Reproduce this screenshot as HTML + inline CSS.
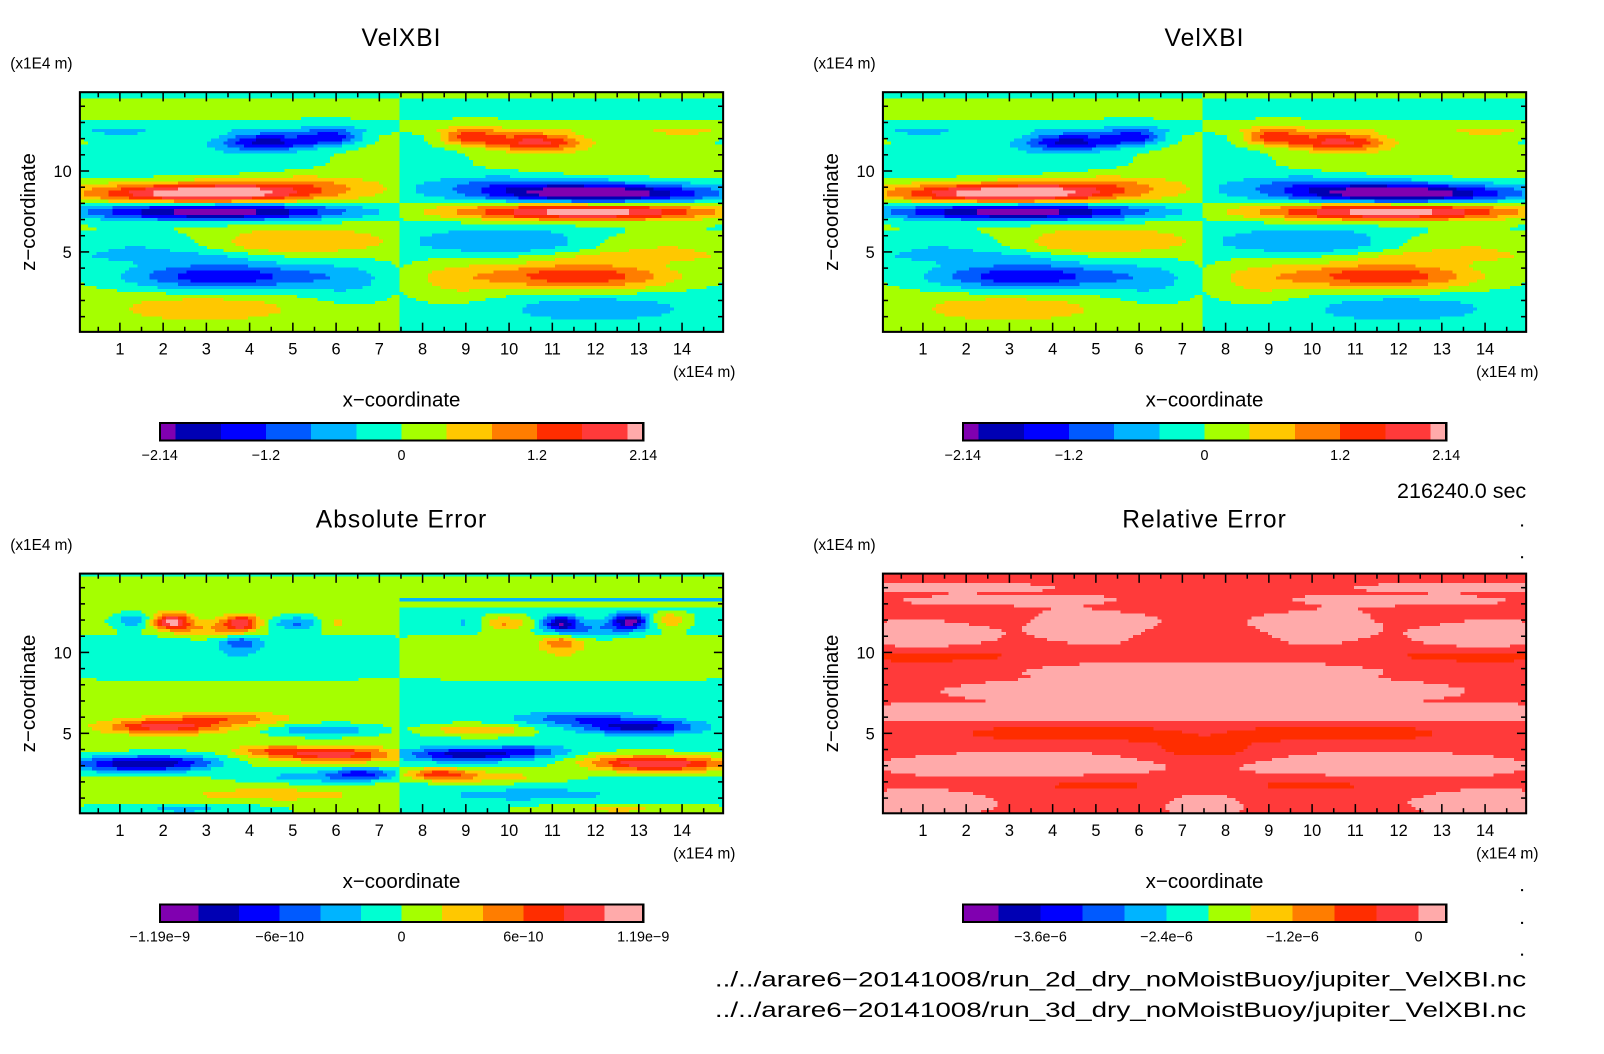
<!DOCTYPE html>
<html><head><meta charset="utf-8"><style>
html,body{margin:0;padding:0;background:#fff;}
svg{display:block;}
text{font-family:"Liberation Sans",sans-serif;fill:#000;}
</style></head><body>
<svg id="fig" width="1604" height="1054" viewBox="0 0 1566 1029" preserveAspectRatio="none" xmlns="http://www.w3.org/2000/svg"></svg>
<script>
// ---- data ----
const levelColors = ["#8000b0","#0000b4","#0000ff","#005aff","#00b4ff","#00ffd2","#a5ff00","#ffc800","#ff7d00","#ff2d00","#ff3a3a","#ffaaaa"];
const xTickLabels = [1,2,3,4,5,6,7,8,9,10,11,12,13,14];
const zTickLabels = [5,10];
const velBase = 0.4;
const velBlobs = [
 [3.0,8.6,6.2,1.8,0.45],[3.2,7.5,-6.4,2.2,0.4],[3.4,3.5,-4.3,1.6,0.6],
 [4.4,11.8,-4.6,0.8,0.4],[5.9,12.1,-3.6,0.5,0.35],[5.0,5.6,1.7,1.5,0.6],
 [3.0,1.5,1.6,1.3,0.5],[2.0,10.5,-1.3,2.5,0.8],[1.5,5.5,-1.4,1.5,0.6],
 [6.3,3.2,-1.3,0.8,1.0],[5.2,9.2,1.4,1.2,0.4],[1.0,12.3,-1.2,0.6,0.3],
 [2.0,4.7,-1.2,2.0,0.3]
];
const velStripes = [[14.7,-1.2,0.15],[13.1,-1.3,0.1],[12.6,-0.9,0.2]];
const absBase = 0.3;
const absBlobs = [
 [2.0,5.4,4.2,0.9,0.3],[3.4,5.9,2.4,1.0,0.3],[1.2,3.1,-4.4,1.0,0.35],
 [2.4,3.2,-2.2,0.8,0.35],[6.0,3.7,4.3,0.9,0.3],[5.7,5.2,-2.4,0.8,0.25],
 [4.5,3.9,2.2,0.6,0.25],[6.6,2.5,-3.2,0.5,0.25],[5.5,2.3,-1.8,1.2,0.3],
 [2.2,11.9,5.2,0.3,0.35],[3.8,11.8,4.6,0.3,0.35],
 [1.3,12.0,-2.2,0.3,0.3],[5.3,11.8,-3.0,0.5,0.3],[5.8,11.8,2.2,0.4,0.3],
 [3.8,10.6,-2.5,0.3,0.25],[3.0,11.4,1.8,0.5,0.35],[3.5,9.7,-1.3,4.0,0.9],
 [4.5,1.2,1.0,2.0,0.4],[2.5,0.3,-1.5,1.5,0.3]
];
const absStripes = [[13.2,1.0,0.1]];
// symmetric (same sign both halves) top stripes: [z, value, width]
const absTopSym = [[14.0,0.6,0.7],[14.75,-1.0,0.12],[13.25,-1.0,0.08]];
const relBase = 4.75;
const relBlobs = [
 [7.5,7.6,1.5,3.2,0.5],[6.5,8.9,1.2,1.8,0.3],[5.0,11.8,1.2,0.9,0.8],
 [1.0,11.0,1.2,1.0,0.6],[3.0,13.2,1.0,1.5,0.2],[1.5,14.0,1.0,1.5,0.2],
 [3.5,3.0,1.2,2.0,0.5],[1.0,0.7,1.2,1.0,0.5],[7.5,0.5,1.2,0.5,0.5],
 [6.5,6.5,1.0,1.0,0.5],[1.0,6.3,1.0,1.0,0.3],[4.5,6.2,1.0,2.5,0.3],
 [4.5,5.0,-1.5,2.0,0.4],[7.5,4.0,-1.2,1.0,0.5],[5.0,1.8,-1.0,1.5,0.4],
 [1.0,9.8,-1.2,2.0,0.4],[6.0,12.8,-0.8,1.0,0.3],[2.5,12.3,-0.6,0.6,0.3],
 [7.5,11.0,-0.7,1.0,0.4]
];
const cb1Labels = ["−2.14","−1.2","0","1.2","2.14"], cb1Units = [-5.35,-3,0,3,5.35];
const cb3Labels = ["−1.19e−9","−6e−10","0","6e−10","1.19e−9"], cb3Units = [-5.95,-3,0,3,5.95];
const cb4Labels = ["−3.6e−6","−2.4e−6","−1.2e−6","0"], cb4Units = [-4,-1,2,5];

// ---- helpers ----
const NS="http://www.w3.org/2000/svg", svg=document.getElementById('fig');
function mk(tag,attrs,parent){const e=document.createElementNS(NS,tag);for(const k in attrs)e.setAttribute(k,attrs[k]);(parent||svg).appendChild(e);return e;}
function txt(s,x,y,size,anchor,parent,extra){const t=mk('text',Object.assign({x:x,y:y,'font-size':size,'text-anchor':anchor||'middle'},extra||{}),parent);t.textContent=s;return t;}
const X0=0.075,X1=14.95,Z0=0.06,Z1=14.87,PW=628,PH=234;
function blobSum(blobs,stripes,x,z){let v=0;for(const b of blobs){const dx=(x-b[0])/b[3],dz=(z-b[1])/b[4];v+=b[2]*Math.exp(-0.5*(dx*dx+dz*dz));}
 if(stripes)for(const s of stripes){const dz=(z-s[0])/s[2];v+=s[1]*Math.exp(-0.5*dz*dz);}return v;}
function field(kind,x,z){
 if(kind==='vel'){if(x<7.5)return velBase+blobSum(velBlobs,velStripes,x,z);return -(velBase+blobSum(velBlobs,velStripes,15-x,z));}
 if(kind==='abs'){const sym=blobSum([],absTopSym,x,z);if(x<7.5)return absBase+blobSum(absBlobs,absStripes,x,z)+sym;return -(absBase+blobSum(absBlobs,absStripes,15-x,z))+sym+(z>12.8?0.6:0);}
 const xm=x<7.5?x:15-x;return relBase+blobSum(relBlobs,null,xm,z);
}
function colorIdx(v){return Math.max(0,Math.min(11,Math.floor(v)+6));}

function panel(name,px,py,kind,title,cbLabels,cbUnits,cbLo,cbHi){
 const g=mk('g',{});
 const sx=v=>px+(v-X0)/(X1-X0)*PW, sz=v=>py+PH-(v-Z0)/(Z1-Z0)*PH;
 const fg=mk('g',{'shape-rendering':'crispEdges'},g);
 const cw=4,ch=3,nx=PW/cw|0,nz=Math.ceil(PH/ch);
 for(let j=0;j<nz;j++){const yy=py+j*ch,h=Math.min(ch,py+PH-yy);const z=Z1-(j+0.5)*ch/PH*(Z1-Z0);
  let start=0,cur=-1;
  for(let i=0;i<=nx;i++){let c=-1;if(i<nx){const x=X0+(i+0.5)*cw/PW*(X1-X0);c=colorIdx(field(kind,x,z));}
   if(c!==cur){if(cur>=0){const x0=px+start*cw,x1=(i===nx)?px+PW:px+i*cw;mk('rect',{x:x0,y:yy,width:x1-x0,height:h,fill:levelColors[cur]},fg);}cur=c;start=i;}}
 }
 const fr=mk('rect',{x:px,y:py,width:PW,height:PH,fill:'none',stroke:'#000','stroke-width':2},g);
 
 const tk=mk('g',{stroke:'#000','stroke-width':1.5},g);
 for(let v=0.5;v<15;v+=0.5){const x=sx(v),L=(v%1===0)?9:5;mk('line',{x1:x,x2:x,y1:py+PH,y2:py+PH-L},tk);mk('line',{x1:x,x2:x,y1:py,y2:py+L},tk);}
 for(let v=1;v<15;v++){const y=sz(v),L=(v%5===0)?9:5;mk('line',{x1:px,x2:px+L,y1:y,y2:y},tk);mk('line',{x1:px+PW,x2:px+PW-L,y1:y,y2:y},tk);}
 xTickLabels.forEach(v=>{const t=txt(String(v),sx(v),py+PH+22,16,'middle',g);});
 zTickLabels.forEach(v=>{const t=txt(String(v),px-8,sz(v)+6,16,'end',g);});
 let t=txt(title,px+314,py-45,24,'middle',g,{'letter-spacing':'1'});
 t=txt('(x1E4 m)',px-68,py-23,15,'start',g);
 t=txt('(x1E4 m)',px+640,py+PH+44,15,'end',g);
 t=txt('x−coordinate',px+314,py+PH+73,20,'middle',g);
 t=txt('z−coordinate',0,0,20,'middle',g,{transform:`translate(${px-44},${py+117}) rotate(-90)`});
 const cb=mk('g',{'shape-rendering':'crispEdges'},g);
 const bx=px+78,bw=472,by=py+PH+89,bh=17,cx=u=>bx+(u-cbLo)/(cbHi-cbLo)*bw;
 for(let k=0;k<12;k++){const lo=Math.max(cbLo,k-6),hi=Math.min(cbHi,k-5);if(hi<=lo)continue;
  const r=mk('rect',{x:cx(lo),y:by,width:cx(hi)-cx(lo),height:bh,fill:levelColors[k]},cb);}
 mk('rect',{x:bx,y:by,width:bw,height:bh,fill:'none',stroke:'#000','stroke-width':2},cb);
 cbLabels.forEach((s,i)=>{const tt=txt(s,cx(cbUnits[i]),by+36,14,'middle',cb);});
}
panel('velxbi-2d-panel',78,90,'vel','VelXBI',cb1Labels,cb1Units,-5.35,5.35);
panel('velxbi-3d-panel',862,90,'vel','VelXBI',cb1Labels,cb1Units,-5.35,5.35);
panel('absolute-error-panel',78,560,'abs','Absolute Error',cb3Labels,cb3Units,-5.95,5.95);
panel('relative-error-panel',862,560,'rel','Relative Error',cb4Labels,cb4Units,-5.85,5.66);
let t=txt('216240.0 sec',1490,486,21,'end');
t=txt('../../arare6−20141008/run_2d_dry_noMoistBuoy/jupiter_VelXBI.nc',1490,963,21,'end',null,{textLength:792,lengthAdjust:'spacingAndGlyphs'});
t=txt('../../arare6−20141008/run_3d_dry_noMoistBuoy/jupiter_VelXBI.nc',1490,993,21,'end',null,{textLength:792,lengthAdjust:'spacingAndGlyphs'});
[512,543,836,868,900,931].forEach(y=>{const d=mk('rect',{x:1485,y:y,width:2,height:2,fill:'#000'});});
</script>
</body></html>
